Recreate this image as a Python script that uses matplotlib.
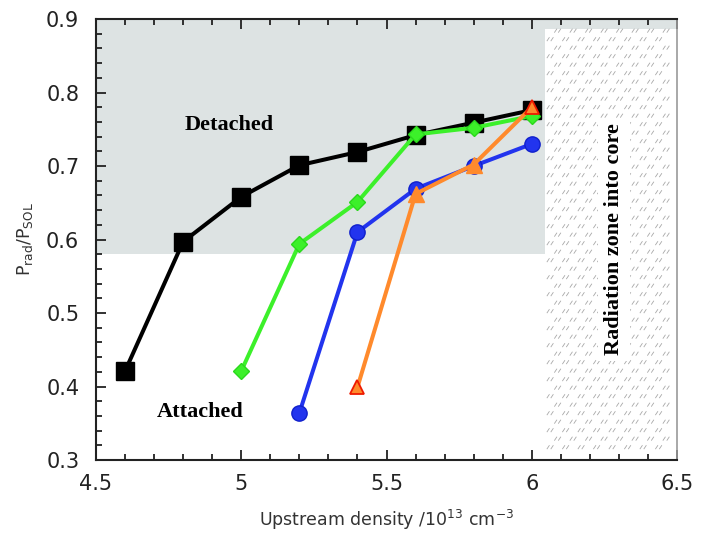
import numpy as np
import matplotlib
matplotlib.use("Agg")
import matplotlib.pyplot as plt
from matplotlib.patches import Rectangle
from matplotlib.path import Path
from matplotlib.ticker import MultipleLocator

# Upstream density (1e13 cm^-3) and radiated power fraction for each scan
dens_black = [4.6, 4.8, 5.0, 5.2, 5.4, 5.6, 5.8, 6.0]
frac_black = [0.421, 0.597, 0.658, 0.701, 0.719, 0.742, 0.759, 0.776]

dens_green = [5.0, 5.2, 5.4, 5.6, 5.8, 6.0]
frac_green = [0.421, 0.594, 0.651, 0.743, 0.752, 0.768]

dens_blue = [5.2, 5.4, 5.6, 5.8, 6.0]
frac_blue = [0.364, 0.610, 0.669, 0.700, 0.730]

dens_orange = [5.4, 5.6, 5.8, 6.0]
frac_orange = [0.399, 0.662, 0.702, 0.780]

x_ticks = [4.5, 5, 5.5, 6, 6.5]
y_ticks = [0.3, 0.4, 0.5, 0.6, 0.7, 0.8, 0.9]

W, H, DPI = 714, 533, 100
fig = plt.figure(figsize=(W / DPI, H / DPI), dpi=DPI, facecolor="white")
ax = fig.add_axes([96 / W, 1 - 460 / H, (677 - 96) / W, (460 - 19) / H])
ax.set_xlim(4.5, 6.5)
ax.set_ylim(0.3, 0.9)

# detached region shading
ax.add_patch(Rectangle((4.5, 0.58), 2.0, 0.32, facecolor="#dde3e3",
                       edgecolor="none", zorder=0))
# radiation-into-core zone: white with a light dash texture
x0z, y0z, y1z = 6.046, 0.312, 0.887
ax.add_patch(Rectangle((x0z, y0z), 6.5 - x0z, y1z - y0z, facecolor="white",
                       edgecolor="none", zorder=0.5))
dash = Path([(-1.0, -0.6), (-0.2, 0.6), (0.2, -0.6), (1.0, 0.6)],
            [Path.MOVETO, Path.LINETO, Path.MOVETO, Path.LINETO])
to_data = ax.transData.inverted()
px0, py0 = ax.transData.transform((x0z, y0z))
px1, py1 = ax.transData.transform((6.5, y1z))
pts = []
for i, py in enumerate(np.arange(py0 + 4, py1 - 2, 8.5)):
    off = 7.5 if i % 2 else 0.0
    for px in np.arange(px0 + 5 + off, px1 - 3, 15.5):
        pts.append((px, py))
pts = to_data.transform(np.array(pts))
ax.scatter(pts[:, 0], pts[:, 1], marker=dash, s=22, facecolors="none",
           edgecolors="#a8a8a8", linewidths=0.6, zorder=0.6)

lw = 2.9
ax.plot(dens_black, frac_black, color="black", lw=lw, marker="s", ms=13,
        mfc="black", mec="black", zorder=3)
ax.plot(dens_green, frac_green, color="#3cf02a", lw=lw, marker="D", ms=8.5,
        mfc="#3cf02a", mec="#2ad81c", zorder=4)
ax.plot(dens_blue, frac_blue, color="#2234ee", lw=lw, marker="o", ms=11,
        mfc="#2234ee", mec="#1020cc", zorder=5)
ax.plot(dens_orange, frac_orange, color="#ff8a2c", lw=lw, marker="^", ms=11,
        mfc="#ff8a2c", mec="#ff8a2c", markevery=[1, 2], zorder=6)
ax.plot(dens_orange, frac_orange, ls="none", marker="^", ms=10.5,
        mfc="#ff8a2c", mec="#ee1a00", mew=1.3, markevery=[0, 3], zorder=7)

serif = ["Liberation Serif", "DejaVu Serif"]
ax.text(4.96, 0.756, "Detached", family=serif, fontweight="bold",
        fontsize=16, ha="center", va="center", zorder=8)
ax.text(4.86, 0.365, "Attached", family=serif, fontweight="bold",
        fontsize=16, ha="center", va="center", zorder=8)
ax.text(6.283, 0.60, "Radiation zone into core", family=serif,
        fontweight="bold", fontsize=16, rotation=90, ha="center",
        va="center", zorder=8,
        bbox=dict(facecolor="white", edgecolor="none", pad=4))

ax.set_xticks(x_ticks)
ax.set_yticks(y_ticks)
ax.set_xticklabels([f"{v:g}" for v in x_ticks])
ax.set_yticklabels([f"{v:g}" for v in y_ticks])
ax.xaxis.set_minor_locator(MultipleLocator(0.1))
ax.yaxis.set_minor_locator(MultipleLocator(0.02))
ax.tick_params(which="both", direction="in", top=True, right=False,
               colors="#222222", width=1.3)
ax.tick_params(which="major", length=7, labelsize=15, labelcolor="#222222")
ax.tick_params(axis="y", which="major", pad=12)
ax.tick_params(axis="x", which="major", pad=10)
ax.tick_params(which="minor", length=4)
for side in ("left", "bottom", "top"):
    ax.spines[side].set_linewidth(1.5)
    ax.spines[side].set_color("#222222")
ax.spines["right"].set_color("#9a9a9a")
ax.spines["right"].set_linewidth(1.2)

ax.set_xlabel(r"Upstream density /10$^{13}$ cm$^{-3}$", fontsize=12.5,
              color="#333333", labelpad=10)
ax.set_ylabel(r"P$_{\rm rad}$/P$_{\rm SOL}$", fontsize=12.5,
              color="#333333", labelpad=8)

fig.savefig("out.png", dpi=DPI, facecolor="white")
